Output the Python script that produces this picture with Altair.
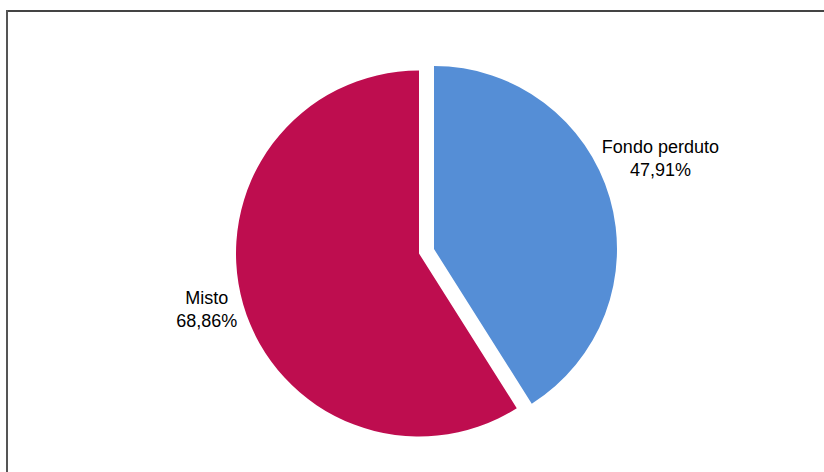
import altair as alt
import pandas as pd

categories = ["Fondo perduto", "Misto"]
values = [47.91, 68.86]
order = [0, 1]
labels = [f"{c}\n{v:.2f}%".replace(".", ",") for c, v in zip(categories, values)]

df = pd.DataFrame({"cat": categories, "val": values, "ord": order, "label": labels})

BLUE = "#558ED6"
RED = "#BE0D4F"

base = alt.Chart(df)

color = alt.Color("cat:N", scale=alt.Scale(domain=categories, range=[BLUE, RED]), legend=None)
theta = alt.Theta("val:Q", stack=True)
ordr = alt.Order("ord:Q")

red_arc = base.mark_arc(outerRadius=183).encode(
    theta=theta, color=color, order=ordr,
    x=alt.value(419), y=alt.value(253.5),
    opacity=alt.condition("datum.cat == 'Misto'", alt.value(1), alt.value(0)),
)
blue_arc = base.mark_arc(outerRadius=183).encode(
    theta=theta, color=color, order=ordr,
    x=alt.value(434), y=alt.value(249),
    opacity=alt.condition("datum.cat == 'Fondo perduto'", alt.value(1), alt.value(0)),
)
red_text = base.mark_text(
    radius=221, font="Liberation Sans", fontSize=18, lineBreak="\n", lineHeight=23,
    align="center", baseline="middle", color="#000000", dy=-16,
).encode(
    theta=theta, order=ordr, text="label:N",
    x=alt.value(419), y=alt.value(253.5),
    opacity=alt.condition("datum.cat == 'Misto'", alt.value(1), alt.value(0)),
)
blue_text = base.mark_text(
    radius=243, font="Liberation Sans", fontSize=18, lineBreak="\n", lineHeight=23,
    align="center", baseline="middle", color="#000000", dx=-7, dy=-33,
).encode(
    theta=theta, order=ordr, text="label:N",
    x=alt.value(434), y=alt.value(249),
    opacity=alt.condition("datum.cat == 'Fondo perduto'", alt.value(1), alt.value(0)),
)

top_rule = alt.Chart(df).mark_rule(color="#444444", strokeWidth=2).encode(
    x=alt.value(6), x2=alt.value(824), y=alt.value(11)
)
left_rule = alt.Chart(df).mark_rule(color="#555555", strokeWidth=2).encode(
    x=alt.value(7), y=alt.value(10), y2=alt.value(472)
)

chart = alt.layer(red_arc, blue_arc, red_text, blue_text, top_rule, left_rule).properties(
    width=824, height=472, padding=0, autosize=alt.AutoSizeParams(type="none"),
    background="white",
).configure_view(stroke=None)

chart.save("out.html", embed_options={"renderer": "svg", "actions": False})
